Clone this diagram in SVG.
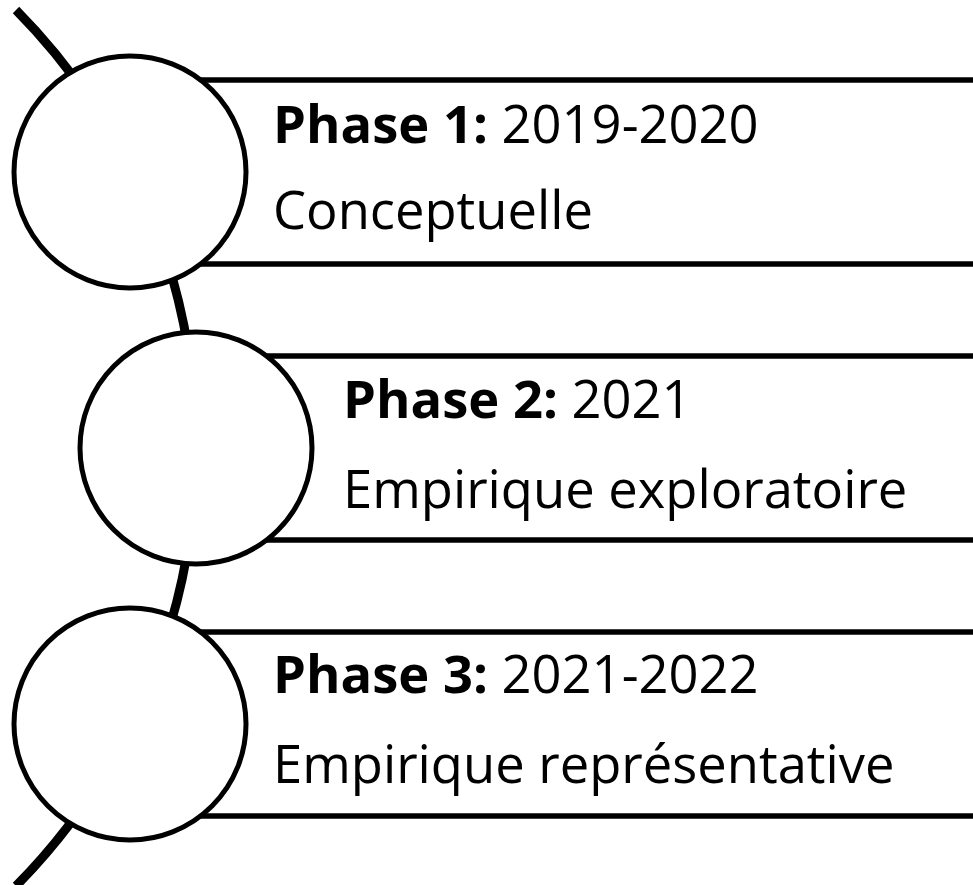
<svg xmlns="http://www.w3.org/2000/svg" width="973" height="885" viewBox="0 0 973 885">
<style>
.bar{fill:#fff;stroke:none}
.edge{stroke:#000;stroke-width:5.5;fill:none}
.dot{fill:#fff;stroke:#000;stroke-width:5}
.arc{fill:none;stroke:#000;stroke-width:9}
text{font-family:"Open Sans","Liberation Sans",sans-serif;font-size:52.5px;fill:#000}
.b{font-weight:bold}
</style>
<rect width="973" height="885" fill="#fff"/>
<g id="connectors">
<path class="arc" d="M 16 10 A 623 623 0 0 1 16 886"/>
</g>
<g id="phase1">
<rect class="bar" x="130" y="80" width="860" height="184"/>
<line class="edge" x1="130" y1="80" x2="980" y2="80"/>
<line class="edge" x1="130" y1="264" x2="980" y2="264"/>
<circle class="dot" cx="130" cy="172" r="116"/>
<text x="273" y="143"><tspan class="b">Phase 1:</tspan> 2019-2020</text>
<text x="273" y="229">Conceptuelle</text>
</g>
<g id="phase2">
<rect class="bar" x="196" y="356" width="800" height="184"/>
<line class="edge" x1="196" y1="356" x2="980" y2="356"/>
<line class="edge" x1="196" y1="540" x2="980" y2="540"/>
<circle class="dot" cx="196" cy="448" r="116"/>
<text x="343" y="418"><tspan class="b">Phase 2:</tspan> 2021</text>
<text x="343" y="508">Empirique exploratoire</text>
</g>
<g id="phase3">
<rect class="bar" x="130" y="632" width="860" height="184"/>
<line class="edge" x1="130" y1="632" x2="980" y2="632"/>
<line class="edge" x1="130" y1="816" x2="980" y2="816"/>
<circle class="dot" cx="130" cy="724" r="116"/>
<text x="273" y="693"><tspan class="b">Phase 3:</tspan> 2021-2022</text>
<text x="273" y="783">Empirique représentative</text>
</g>
</svg>
